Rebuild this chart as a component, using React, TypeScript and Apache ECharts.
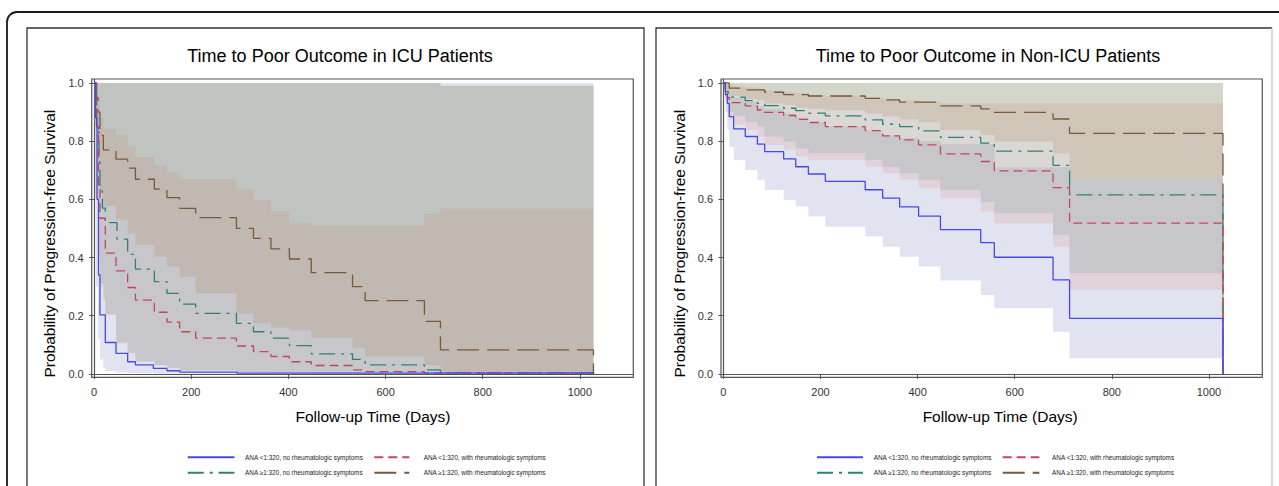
import React, { useEffect, useRef } from "react";
import * as echarts from "echarts";

const FONT = '"Liberation Sans", Arial, Helvetica, sans-serif';

const groupNames = [
  "ANA <1:320, no rheumatologic symptoms",
  "ANA <1:320, with rheumatologic symptoms",
  "ANA ≥1:320, no rheumatologic symptoms",
  "ANA ≥1:320, with rheumatologic symptoms",
];
const panelTitles = ["Time to Poor Outcome in ICU Patients", "Time to Poor Outcome in Non-ICU Patients"];
const xTicks = [0, 200, 400, 600, 800, 1000];
const yTicks = [0, 0.2, 0.4, 0.6, 0.8, 1.0];

// ---------- ICU survival curves ----------
const icuBlueT = [0, 3, 6, 9, 12, 23, 45, 69, 85, 122, 150, 177, 294, 1028, 1028];
const icuBlueS = [1.0, 0.88, 0.6, 0.34, 0.203, 0.108, 0.071, 0.042, 0.031, 0.019, 0.011, 0.006, 0.003, 0.003, 0];
const icuRedT = [0, 5, 9, 12, 23, 45, 69, 85, 124, 150, 176, 209, 293, 328, 364, 402, 447, 532, 558, 680, 1028, 1028];
const icuRedS = [1.0, 0.85, 0.65, 0.535, 0.415, 0.354, 0.297, 0.254, 0.212, 0.178, 0.145, 0.123, 0.096, 0.077, 0.06, 0.042, 0.029, 0.014, 0.008, 0.003, 0.003, 0];
const icuGreenT = [0, 5, 10, 12, 17, 23, 47, 69, 85, 124, 150, 176, 209, 293, 328, 364, 402, 447, 532, 558, 680, 713, 1028, 1028];
const icuGreenS = [1.0, 0.85, 0.73, 0.63, 0.57, 0.52, 0.463, 0.411, 0.36, 0.317, 0.277, 0.24, 0.208, 0.174, 0.145, 0.123, 0.097, 0.069, 0.05, 0.031, 0.014, 0.004, 0.004, 0];
const icuBrownT = [0, 4, 8, 12, 19, 45, 69, 85, 124, 150, 176, 209, 293, 328, 364, 402, 447, 532, 558, 680, 713, 1028, 1028];
const icuBrownS = [1.0, 0.95, 0.9, 0.82, 0.77, 0.738, 0.707, 0.669, 0.635, 0.606, 0.569, 0.537, 0.5, 0.466, 0.43, 0.395, 0.348, 0.3, 0.252, 0.181, 0.0825, 0.0825, 0];

// ---------- ICU confidence bands (value i holds from bandT[i] to bandT[i+1]) ----------
const icuBandT = [0, 4, 8, 12, 19, 23, 45, 69, 85, 124, 150, 176, 209, 293, 328, 364, 402, 447, 532, 558, 680, 713, 1028];
const icuBlueLo = [0.6, 0.3, 0.12, 0.05, 0.02, 0.01, 0.005, 0.003, 0.002, 0.001, 0.001, 0.001, 0, 0, 0, 0, 0, 0, 0, 0, 0, 0];
const icuBlueHi = [1, 1, 1, 1, 1, 1, 1, 1, 1, 1, 1, 1, 1, 1, 1, 1, 1, 1, 1, 1, 1, 1];
const icuRedLo = [0.85, 0.6, 0.4, 0.3, 0.25, 0.203, 0.105, 0.071, 0.042, 0.03, 0.02, 0.012, 0.012, 0.006, 0.005, 0.004, 0.004, 0.003, 0.003, 0.002, 0.002, 0.001];
const icuRedHi = [1, 1, 0.95, 0.88, 0.842, 0.842, 0.821, 0.779, 0.747, 0.715, 0.693, 0.67, 0.67, 0.635, 0.598, 0.558, 0.518, 0.51, 0.51, 0.51, 0.55, 0.568];
const icuGreenLo = [0.86, 0.62, 0.42, 0.31, 0.26, 0.205, 0.108, 0.073, 0.044, 0.031, 0.021, 0.013, 0.013, 0.007, 0.006, 0.005, 0.005, 0.004, 0.004, 0.003, 0.003, 0.002];
const icuGreenHi = [1, 1, 1, 1, 1, 1, 1, 1, 1, 1, 1, 1, 1, 1, 1, 1, 1, 1, 1, 1, 1, 0.99];
const icuBrownLo = [0.97, 0.85, 0.72, 0.62, 0.578, 0.578, 0.529, 0.483, 0.443, 0.403, 0.369, 0.334, 0.277, 0.208, 0.174, 0.16, 0.15, 0.125, 0.09, 0.06, 0.03, 0.0];
const icuBrownHi = [1, 1, 1, 1, 1, 1, 1, 1, 1, 1, 1, 1, 1, 1, 1, 1, 1, 1, 1, 1, 1, 0.99];

// ---------- Non-ICU survival curves ----------
const nonBlueT = [0, 4, 8, 12, 21, 45, 70, 85, 124, 149, 175, 210, 292, 328, 363, 402, 447, 530, 558, 679, 713, 1029, 1029];
const nonBlueS = [1.0, 0.96, 0.93, 0.884, 0.842, 0.816, 0.79, 0.764, 0.739, 0.712, 0.687, 0.662, 0.633, 0.604, 0.574, 0.542, 0.496, 0.451, 0.401, 0.323, 0.191, 0.191, 0];
const nonRedT = [0, 4, 8, 12, 45, 70, 85, 124, 149, 175, 210, 292, 328, 363, 402, 447, 530, 558, 679, 713, 1029, 1029];
const nonRedS = [1.0, 0.97, 0.95, 0.932, 0.921, 0.907, 0.899, 0.888, 0.875, 0.864, 0.85, 0.836, 0.818, 0.804, 0.787, 0.756, 0.73, 0.698, 0.64, 0.518, 0.518, 0];
const nonGreenT = [0, 4, 10, 45, 70, 85, 124, 149, 175, 210, 292, 328, 363, 402, 447, 530, 558, 679, 713, 1029, 1029];
const nonGreenS = [1.0, 0.97, 0.951, 0.939, 0.93, 0.922, 0.913, 0.905, 0.896, 0.887, 0.873, 0.858, 0.85, 0.835, 0.813, 0.793, 0.766, 0.717, 0.615, 0.615, 0];
const nonBrownT = [0, 12, 45, 85, 124, 175, 292, 328, 363, 447, 530, 558, 679, 713, 1029, 1029];
const nonBrownS = [1.0, 0.982, 0.976, 0.968, 0.96, 0.955, 0.947, 0.942, 0.934, 0.921, 0.911, 0.899, 0.876, 0.827, 0.827, 0];

// ---------- Non-ICU confidence bands ----------
const nonBandT = [0, 4, 8, 12, 21, 45, 70, 85, 124, 149, 175, 210, 292, 328, 363, 402, 447, 530, 558, 679, 713, 1029];
const nonBlueLo = [0.97, 0.9, 0.84, 0.78, 0.735, 0.701, 0.667, 0.632, 0.598, 0.575, 0.541, 0.506, 0.472, 0.437, 0.403, 0.369, 0.321, 0.271, 0.226, 0.145, 0.054];
const nonBlueHi = [1.0, 0.99, 0.98, 0.965, 0.95, 0.935, 0.92, 0.91, 0.895, 0.88, 0.865, 0.85, 0.835, 0.82, 0.81, 0.8, 0.79, 0.79, 0.71, 0.71, 0.672];
const nonRedLo = [0.97, 0.94, 0.9, 0.875, 0.856, 0.838, 0.816, 0.787, 0.77, 0.747, 0.735, 0.735, 0.712, 0.69, 0.667, 0.638, 0.604, 0.558, 0.518, 0.437, 0.289];
const nonRedHi = [1.0, 1.0, 1.0, 0.995, 0.99, 0.985, 0.98, 0.975, 0.97, 0.965, 0.96, 0.955, 0.95, 0.945, 0.94, 0.935, 0.93, 0.93, 0.93, 0.93, 0.93];
const nonGreenLo = [0.98, 0.95, 0.92, 0.9, 0.887, 0.867, 0.85, 0.816, 0.798, 0.775, 0.758, 0.758, 0.735, 0.712, 0.69, 0.667, 0.632, 0.592, 0.552, 0.478, 0.346];
const nonGreenHi = [1, 1, 1, 1, 1, 1, 1, 1, 1, 1, 1, 1, 1, 1, 1, 1, 1, 1, 1, 1, 1];
const nonBrownLo = [0.99, 0.985, 0.975, 0.965, 0.955, 0.945, 0.94, 0.93, 0.925, 0.915, 0.91, 0.905, 0.895, 0.885, 0.875, 0.865, 0.838, 0.821, 0.798, 0.758, 0.672];
const nonBrownHi = [1, 1, 1, 1, 1, 1, 1, 1, 1, 1, 1, 1, 1, 1, 1, 1, 1, 1, 1, 1, 1];

const lineColors = ["#4848e4", "#c2475a", "#2e8275", "#775a3a"];
const bandColors = ["rgba(105,120,180,0.2)", "rgba(225,133,120,0.2)", "rgba(95,154,156,0.2)", "rgba(164,128,74,0.2)"];
const dashTypes: any[] = ["solid", [9, 5], [16, 6, 3, 6], [22, 8]];

function lineSeries(g: number, k: number, T: number[], S: number[]) {
  return {
    type: "line",
    name: groupNames[k],
    xAxisIndex: g,
    yAxisIndex: g,
    data: T.map((t, i) => [t, S[i]]),
    step: "end",
    symbol: "none",
    showSymbol: false,
    lineStyle: { color: lineColors[k], width: 1.3, type: dashTypes[k] },
    itemStyle: { color: lineColors[k] },
    z: 5,
    silent: true,
  };
}

function bandSeries(g: number, k: number, T: number[], lo: number[], hi: number[]) {
  const rows = lo.map((l, i) => [T[i], T[i + 1], l, hi[i]]);
  return {
    type: "custom",
    name: "band-" + g + "-" + k,
    xAxisIndex: g,
    yAxisIndex: g,
    data: rows,
    encode: { x: [0, 1], y: [2, 3] },
    silent: true,
    z: 2,
    renderItem: (params: any, api: any) => {
      if (params.dataIndex !== 0) return null;
      const top: number[][] = [];
      const bottom: number[][] = [];
      rows.forEach((r) => {
        top.push(api.coord([r[0], r[3]]), api.coord([r[1], r[3]]));
        bottom.push(api.coord([r[0], r[2]]), api.coord([r[1], r[2]]));
      });
      return {
        type: "polygon",
        shape: { points: top.concat(bottom.reverse()) },
        style: { fill: bandColors[k], stroke: null },
      };
    },
  };
}

const grids = [
  { left: 91.7, top: 79, width: 541.6, height: 298.3 },
  { left: 721, top: 79, width: 541.3, height: 298.3 },
];

function xAxisFor(g: number, pad: number) {
  return {
    type: "value",
    gridIndex: g,
    min: -5,
    max: 1110,
    axisLine: { show: true, lineStyle: { color: "#555", width: 1.2 } },
    axisTick: { show: true, customValues: xTicks, length: 5, lineStyle: { color: "#555" } },
    axisLabel: {
      customValues: xTicks,
      fontSize: 11,
      color: "#333",
      margin: 9,
      fontFamily: FONT,
      formatter: (v: number) => String(Math.round(v)),
    },
    splitLine: { show: false },
    name: "Follow-up Time (Days)",
    nameLocation: "middle",
    nameGap: 31,
    nameTextStyle: { fontSize: 15.5, color: "#000", fontFamily: FONT, padding: [0, 0, 0, pad] },
  };
}

function yAxisFor(g: number) {
  return {
    type: "value",
    gridIndex: g,
    min: -0.0115,
    max: 1.0135,
    axisLine: { show: true, lineStyle: { color: "#555", width: 1.2 } },
    axisTick: { show: true, customValues: yTicks, length: 5, lineStyle: { color: "#555" } },
    axisLabel: {
      customValues: yTicks,
      fontSize: 11,
      color: "#333",
      margin: 8,
      fontFamily: FONT,
      formatter: (v: number) => v.toFixed(1),
    },
    splitLine: { show: false },
    name: "Probability of Progression-free Survival",
    nameLocation: "middle",
    nameGap: 34,
    nameTextStyle: { fontSize: 15.5, color: "#000", fontFamily: FONT, padding: [0, 31, 0, 0] },
  };
}

function legendCol(left: number, names: string[], iw: number, gap: number) {
  return {
    left,
    top: 453.3,
    orient: "vertical",
    itemWidth: iw,
    itemHeight: 8,
    itemGap: 7.4,
    padding: 0,
    selectedMode: false,
    data: names,
    itemStyle: { opacity: 0 },
    textStyle: { fontSize: 6.4, color: "#222", fontFamily: FONT, lineHeight: 8, padding: [0, 0, 0, gap] },
  };
}

export default function App() {
  const ref = useRef<HTMLDivElement>(null);
  useEffect(() => {
    if (!ref.current) return;
    const chart = echarts.init(ref.current, null, { renderer: "svg" });
    const series: any[] = [
      bandSeries(0, 0, icuBandT, icuBlueLo, icuBlueHi),
      bandSeries(0, 1, icuBandT, icuRedLo, icuRedHi),
      bandSeries(0, 2, icuBandT, icuGreenLo, icuGreenHi),
      bandSeries(0, 3, icuBandT, icuBrownLo, icuBrownHi),
      bandSeries(1, 0, nonBandT, nonBlueLo, nonBlueHi),
      bandSeries(1, 1, nonBandT, nonRedLo, nonRedHi),
      bandSeries(1, 2, nonBandT, nonGreenLo, nonGreenHi),
      bandSeries(1, 3, nonBandT, nonBrownLo, nonBrownHi),
      lineSeries(0, 3, icuBrownT, icuBrownS),
      lineSeries(0, 2, icuGreenT, icuGreenS),
      lineSeries(0, 1, icuRedT, icuRedS),
      lineSeries(0, 0, icuBlueT, icuBlueS),
      lineSeries(1, 3, nonBrownT, nonBrownS),
      lineSeries(1, 2, nonGreenT, nonGreenS),
      lineSeries(1, 1, nonRedT, nonRedS),
      lineSeries(1, 0, nonBlueT, nonBlueS),
    ];
    chart.setOption({
      animation: false,
      backgroundColor: "#fff",
      textStyle: { fontFamily: FONT },
      grid: grids.map((g) => ({ ...g, show: true, borderColor: "#555", borderWidth: 1.2, backgroundColor: "transparent" })),
      xAxis: [xAxisFor(0, 21), xAxisFor(1, 17)],
      yAxis: [yAxisFor(0), yAxisFor(1)],
      legend: [
        legendCol(186.7, [groupNames[0], groupNames[2]], 46.7, 5.7),
        legendCol(373.3, [groupNames[1], groupNames[3]], 35, 9.4),
        legendCol(816, [groupNames[0], groupNames[2]], 46, 5.7),
        legendCol(1001.7, [groupNames[1], groupNames[3]], 36.7, 7.7),
      ],
      graphic: [
        { type: "rect", silent: true, shape: { x: 7, y: 12, width: 1300, height: 520, r: 10 }, style: { fill: "none", stroke: "#1a1a1a", lineWidth: 1.8 } },
        { type: "rect", silent: true, shape: { x: 27, y: 28, width: 617, height: 480 }, style: { fill: "none", stroke: "#333", lineWidth: 1.3 } },
        { type: "polyline", silent: true, shape: { points: [[656, 508], [656, 28], [1272, 28]] }, style: { fill: "none", stroke: "#333", lineWidth: 1.3 } },
        { type: "line", silent: true, shape: { x1: 1272, y1: 28, x2: 1272, y2: 508 }, style: { stroke: "#c4c4c4", lineWidth: 1.3 } },
        { type: "text", silent: true, x: 340, y: 56, style: { text: panelTitles[0], fontSize: 18, fill: "#000", align: "center", verticalAlign: "middle", fontFamily: FONT } },
        { type: "text", silent: true, x: 988, y: 56, style: { text: panelTitles[1], fontSize: 18, fill: "#000", align: "center", verticalAlign: "middle", fontFamily: FONT } },
      ],
      series,
    });
    return () => chart.dispose();
  }, []);
  return <div ref={ref} style={{ position: "fixed", left: 0, top: 0, width: 1279, height: 486 }} />;
}
